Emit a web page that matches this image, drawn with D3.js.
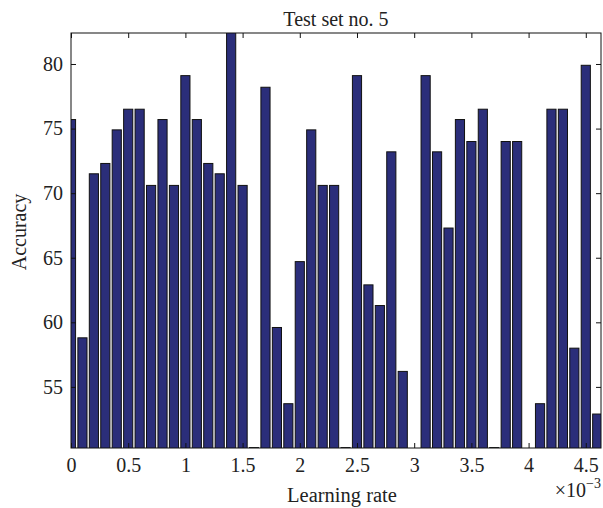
<!DOCTYPE html>
<html>
<head>
<meta charset="utf-8">
<script src="https://cdn.jsdelivr.net/npm/d3@7"></script>
<style>
  body { margin: 0; background: #fff; }
  text { font-family: "Liberation Serif", "DejaVu Serif", serif; fill: #222; }
</style>
</head>
<body>
<div id="chart"></div>
<script>
const width = 603;
const height = 508;

// learning rate (x 1e-3) and accuracy
const rates = d3.range(47).map(i => +(i * 0.1).toFixed(1));
const accuracy = [
  75.7, 58.8, 71.5, 72.3, 74.9, 76.5, 76.5, 70.6, 75.7, 70.6,
  79.1, 75.7, 72.3, 71.5, 83.0, 70.6, 50.3, 78.2, 59.6, 53.7,
  64.7, 74.9, 70.6, 70.6, 50.3, 79.1, 62.9, 61.3, 73.2, 56.2,
  50.0, 79.1, 73.2, 67.3, 75.7, 74.0, 76.5, 50.3, 74.0, 74.0,
  50.0, 53.7, 76.5, 76.5, 58.0, 79.9, 52.9
];
const xTicks = [0, 0.5, 1, 1.5, 2, 2.5, 3, 3.5, 4, 4.5];
const yTicks = [55, 60, 65, 70, 75, 80];

const margin = {top: 33, right: 2, bottom: 60, left: 71};
const x0 = margin.left, x1 = width - margin.right;
const y0 = height - margin.bottom, y1 = margin.top;

const x = d3.scaleLinear().domain([0, 4.633]).range([x0, x1]);
const y = d3.scaleLinear().domain([50.27, 82.4]).range([y0, y1]);
const barW = (x(0.1) - x(0)) * 0.8;

const svg = d3.select("#chart").append("svg")
    .attr("width", width)
    .attr("height", height);

svg.append("clipPath").attr("id", "clip")
  .append("rect")
    .attr("x", x0).attr("y", y1)
    .attr("width", x1 - x0).attr("height", y0 - y1);

svg.append("g")
    .attr("clip-path", "url(#clip)")
  .selectAll("rect")
  .data(rates)
  .enter().append("rect")
    .attr("x", d => x(d) - barW / 2)
    .attr("width", barW)
    .attr("y", (d, i) => y(Math.max(accuracy[i], 50.27)))
    .attr("height", (d, i) => accuracy[i] < 50.27 ? 0 : y(50.27) - y(accuracy[i]) + 2)
    .attr("fill", "#2b2e7a")
    .attr("stroke", (d, i) => accuracy[i] < 50.27 ? "none" : "#111")
    .attr("stroke-width", 1);

// axes: inward ticks on all four sides
svg.append("g")
    .attr("transform", `translate(0,${y0})`)
    .call(d3.axisBottom(x).tickValues(xTicks).tickSize(-5).tickPadding(10).tickFormat(d3.format("")))
    .call(g => g.select(".domain").remove());

svg.append("g")
    .attr("transform", `translate(0,${y1})`)
    .call(d3.axisTop(x).tickValues(xTicks).tickSize(-5).tickFormat(""))
    .call(g => g.select(".domain").remove());

svg.append("g")
    .attr("transform", `translate(${x0},0)`)
    .call(d3.axisLeft(y).tickValues(yTicks).tickSize(-5).tickPadding(8))
    .call(g => g.select(".domain").remove());

svg.append("g")
    .attr("transform", `translate(${x1},0)`)
    .call(d3.axisRight(y).tickValues(yTicks).tickSize(-5).tickFormat(""))
    .call(g => g.select(".domain").remove());

svg.selectAll(".tick text")
    .style("font-family", "Liberation Serif, serif")
    .style("font-size", "20px")
    .attr("fill", "#222");
svg.selectAll(".tick line").attr("stroke", "#111");

svg.append("rect")
    .attr("x", x0).attr("y", y1)
    .attr("width", x1 - x0).attr("height", y0 - y1)
    .attr("fill", "none")
    .attr("stroke", "#111")
    .attr("stroke-width", 1);

svg.append("text")
    .attr("x", (x0 + x1) / 2)
    .attr("y", 26)
    .attr("text-anchor", "middle")
    .style("font-size", "20px")
    .text("Test set no. 5");

svg.append("text")
    .attr("x", (x0 + x1) / 2 + 6)
    .attr("y", 502)
    .attr("text-anchor", "middle")
    .style("font-size", "20.5px")
    .text("Learning rate");

const exp = svg.append("text")
    .attr("x", x1)
    .attr("y", 497)
    .attr("text-anchor", "end")
    .style("font-size", "20px");
exp.append("tspan").text("×10");
exp.append("tspan").attr("dy", -9).style("font-size", "14px").text("−3");

svg.append("text")
    .attr("transform", `translate(26,232) rotate(-90)`)
    .attr("text-anchor", "middle")
    .style("font-size", "20px")
    .text("Accuracy");
</script>
</body>
</html>
